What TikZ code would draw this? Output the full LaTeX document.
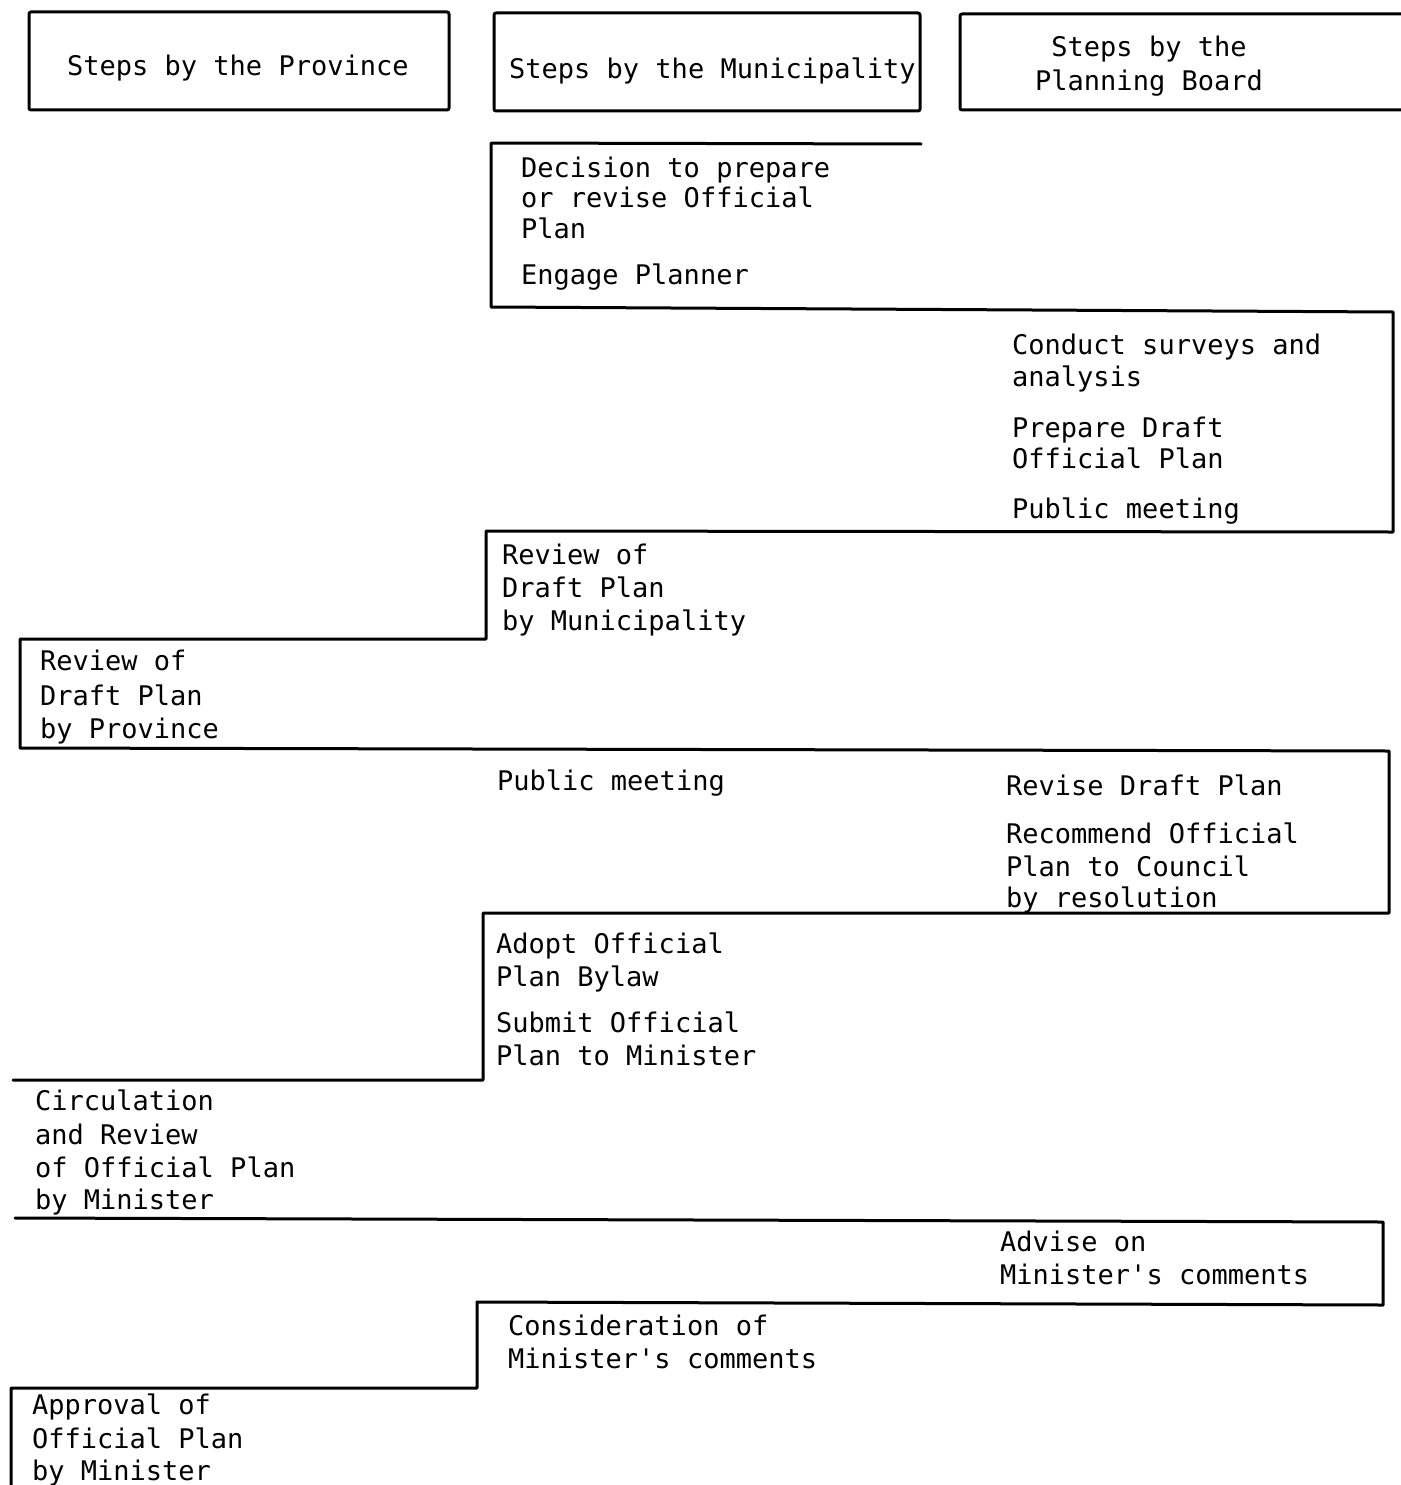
\documentclass[tikz,border=0pt]{standalone}
\usepackage{fontspec}
\setmonofont{DejaVu Sans Mono}
\begin{document}
\begin{tikzpicture}[x=1pt,y=-1pt,
  rule/.style={line width=3pt, line join=round, line cap=round},
  txt/.style={font=\ttfamily\fontsize{27}{33}\selectfont, anchor=base west, inner sep=0pt},
  txtc/.style={font=\ttfamily\fontsize{27}{33}\selectfont, anchor=base, inner sep=0pt}]
\useasboundingbox (0,0) rectangle (1400,1485);
% header boxes
\draw[rule, rounded corners=2pt] (29,12) rectangle (449,110);
\draw[rule, rounded corners=2pt] (494,13) rectangle (920,111);
\draw[rule, rounded corners=2pt] (960,14) rectangle (1410,110);
\node[txt] (h1) at (67,76) {Steps by the Province};
\node[txt] (h2) at (509,79) {Steps by the Municipality};
\node[txtc] (h3a) at (1149,57) {Steps by the};
\node[txtc] (h3b) at (1149,91) {Planning Board};
% staircase
\draw[rule] (921,144) -- (491,143) -- (491,307) -- (1393,312) -- (1393,532)
  -- (486,531) -- (486,639) -- (20,639) -- (20,748) -- (1389,751) -- (1389,913)
  -- (483,913) -- (483,1080) -- (13,1080);
\draw[rule] (15,1218) -- (1383,1222) -- (1383,1305) -- (477,1302) -- (477,1388)
  -- (11,1388) -- (11,1495);
% Municipality: decision
\node[txt] (d1) at (521,177) {Decision to prepare};
\node[txt] (d2) at (521,207) {or revise Official};
\node[txt] (d3) at (521,238) {Plan};
\node[txt] (d4) at (521,284) {Engage Planner};
% Planning board: surveys
\node[txt] (c1) at (1012,354) {Conduct surveys and};
\node[txt] (c2) at (1012,386) {analysis};
\node[txt] (c3) at (1012,437) {Prepare Draft};
\node[txt] (c4) at (1012,468) {Official Plan};
\node[txt] (c5) at (1012,518) {Public meeting};
% Municipality review
\node[txt] (m1) at (502,564) {Review of};
\node[txt] (m2) at (502,597) {Draft Plan};
\node[txt] (m3) at (502,630) {by Municipality};
% Province review
\node[txt] (p1) at (40,670) {Review of};
\node[txt] (p2) at (40,705) {Draft Plan};
\node[txt] (p3) at (40,738) {by Province};
% public meeting / revise
\node[txt] (pm) at (497,790) {Public meeting};
\node[txt] (r1) at (1006,795) {Revise Draft Plan};
\node[txt] (r2) at (1006,843) {Recommend Official};
\node[txt] (r3) at (1006,876) {Plan to Council};
\node[txt] (r4) at (1006,907) {by resolution};
% adopt
\node[txt] (a1) at (496,953) {Adopt Official};
\node[txt] (a2) at (496,986) {Plan Bylaw};
\node[txt] (a3) at (496,1032) {Submit Official};
\node[txt] (a4) at (496,1065) {Plan to Minister};
% circulation
\node[txt] (ci1) at (35,1110) {Circulation};
\node[txt] (ci2) at (35,1144) {and Review};
\node[txt] (ci3) at (35,1177) {of Official Plan};
\node[txt] (ci4) at (35,1209) {by Minister};
% advise
\node[txt] (ad1) at (1000,1251) {Advise on};
\node[txt] (ad2) at (1000,1284) {Minister's comments};
% consideration
\node[txt] (co1) at (508,1335) {Consideration of};
\node[txt] (co2) at (508,1368) {Minister's comments};
% approval
\node[txt] (ap1) at (32,1414) {Approval of};
\node[txt] (ap2) at (32,1448) {Official Plan};
\node[txt] (ap3) at (32,1480) {by Minister};
\end{tikzpicture}
\end{document}
